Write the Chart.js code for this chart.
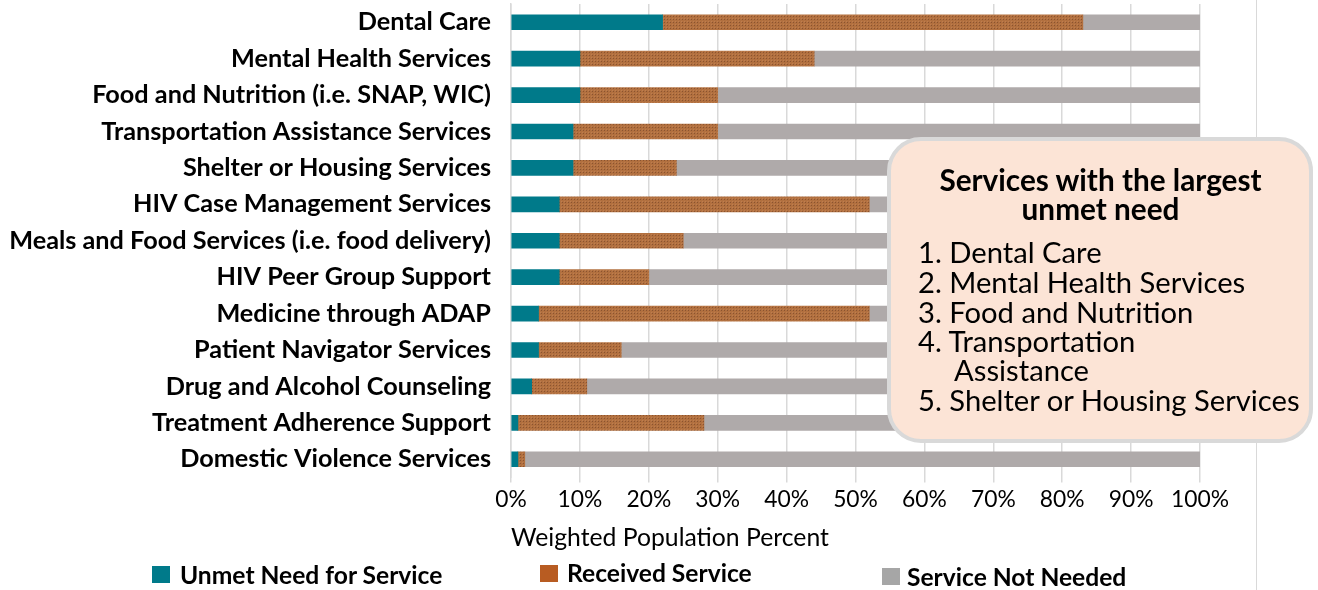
<!DOCTYPE html>
<html><head><meta charset="utf-8">
<script src="https://cdn.jsdelivr.net/npm/chart.js@4.4.1/dist/chart.umd.min.js"></script>
<style>
html,body{margin:0;padding:0;background:#fff;}
#wrap{position:relative;width:1318px;height:590px;overflow:hidden;background:#fff;}
#frameLine{position:absolute;left:1256px;top:0;width:1px;height:590px;background:#D9D9D9;}
#c{position:absolute;left:0;top:0;}
#box{position:absolute;left:887px;top:137px;width:426px;height:306px;box-sizing:border-box;background:#FCE4D6;border:4px solid #D9D9D9;border-radius:34px;}
.t{position:absolute;white-space:nowrap;color:#000;font-family:Lato,sans-serif;line-height:1;}
.sw{position:absolute;width:18px;height:17px;}
</style>
</head><body>
<div id="wrap">
  <div id="frameLine"></div>
  <canvas id="c" width="1318" height="590"></canvas>
  <div id="box"></div>
  <div id="overlay"></div>
</div>
<script>
const categories = [
  "Dental Care",
  "Mental Health Services",
  "Food and Nutrition (i.e. SNAP, WIC)",
  "Transportation Assistance Services",
  "Shelter or Housing Services",
  "HIV Case Management Services",
  "Meals and Food Services (i.e. food delivery)",
  "HIV Peer Group Support",
  "Medicine through ADAP",
  "Patient Navigator Services",
  "Drug and Alcohol Counseling",
  "Treatment Adherence Support",
  "Domestic Violence Services"
];
const unmetNeed  = [22, 10, 10, 9, 9, 7, 7, 7, 4, 4, 3, 1, 1];
const received   = [61, 34, 20, 21, 15, 45, 18, 13, 48, 12, 8, 27, 1];
const notNeeded  = [17, 56, 70, 70, 76, 48, 75, 80, 48, 84, 89, 72, 98];
const seriesNames = ["Unmet Need for Service", "Received Service", "Service Not Needed"];
const xTicks = [0, 10, 20, 30, 40, 50, 60, 70, 80, 90, 100];
const axisTitle = "Weighted Population Percent";
const boxTitle = ["Services with the largest", "unmet need"];
const boxList = ["1. Dental Care", "2. Mental Health Services", "3. Food and Nutrition", "4. Transportation", "Assistance", "5. Shelter or Housing Services"];

const FAMILY = "Lato";
function fit(text, weight, target){
  const m = document.createElement('canvas').getContext('2d');
  m.font = weight + " 100px " + FAMILY;
  return 100 * target / m.measureText(text).width;
}
const yLabelSize = fit(categories[6], "bold", 482);
const tickSize = fit("100%", "normal", 58);
const titleSize = fit(axisTitle, "normal", 318);
const legendSize = fit(seriesNames[0], "bold", 263);
const boxTitleSize = fit(boxTitle[0], "bold", 323);
const boxListSize = fit(boxList[5], "normal", 383);

// pattern for received
function makePattern(){
  const p = document.createElement('canvas'); p.width = 3; p.height = 3;
  const x = p.getContext('2d');
  x.fillStyle = '#B2703F'; x.fillRect(0,0,3,3);
  x.fillStyle = '#8A5330'; x.fillRect(1,1,1,1);
  x.fillStyle = '#BE7E50'; x.fillRect(0,0,1,1);
  return document.getElementById('c').getContext('2d').createPattern(p, 'repeat');
}
const pat = makePattern();

new Chart(document.getElementById('c'), {
  type: 'bar',
  data: {
    labels: categories,
    datasets: [
      {label: seriesNames[0], data: unmetNeed, backgroundColor: '#007A8A'},
      {label: seriesNames[1], data: received, backgroundColor: pat},
      {label: seriesNames[2], data: notNeeded, backgroundColor: '#AFAAAA'}
    ]
  },
  options: {
    indexAxis: 'y',
    responsive: false,
    animation: false,
    devicePixelRatio: 1,
    barThickness: 15,
    layout: {padding: {left: 0, right: 118, top: 4, bottom: 36}},
    plugins: {legend: {display: false}, tooltip: {enabled: false}},
    scales: {
      x: {
        stacked: true, min: 0, max: 100,
        afterFit: s => { s.height = 76.5; s.paddingLeft = 0; s.paddingRight = 0; },
        afterBuildTicks: s => { s.ticks = xTicks.map(v => ({value: v})); },
        grid: {color: '#D9D9D9', lineWidth: 1.5, drawTicks: true, tickLength: 5, tickColor: '#D9D9D9'},
        border: {display: false},
        ticks: {color: '#000', padding: 3, maxRotation: 0, autoSkip: false,
          font: {family: FAMILY, size: tickSize}, callback: v => v + '%'},
        title: {display: true, text: axisTitle, align: 'start', color: '#000',
          font: {family: FAMILY, size: titleSize}, padding: {top: 0, bottom: 1}}
      },
      y: {
        stacked: true,
        afterFit: s => { s.width = 511; s.paddingTop = 0; s.paddingBottom = 0; },
        grid: {display: false},
        border: {display: true, color: '#D9D9D9', width: 1.5},
        ticks: {color: '#000', padding: 12, autoSkip: false,
          font: {family: FAMILY, size: yLabelSize, weight: 'bold'}}
      }
    }
  }
});

// overlay text
const ov = document.getElementById('overlay');
function addText(txt, left, cy, size, weight, align){
  const d = document.createElement('div');
  d.className = 't';
  d.textContent = txt;
  d.style.fontSize = size + 'px';
  d.style.fontWeight = weight;
  d.style.top = (cy - size/2) + 'px';
  if (align === 'center') { d.style.left = (left - 300) + 'px'; d.style.width = '600px'; d.style.textAlign = 'center'; }
  else d.style.left = left + 'px';
  ov.appendChild(d);
}
function addSwatch(left, top, color){
  const d = document.createElement('div');
  d.className = 'sw'; d.style.left = left + 'px'; d.style.top = top + 'px'; d.style.background = color;
  ov.appendChild(d);
}
// box content
addText(boxTitle[0], 1100.5, 180, boxTitleSize, 'bold', 'center');
addText(boxTitle[1], 1100.5, 209, boxTitleSize, 'bold', 'center');
const listY = [252, 282, 312, 341, 370, 400];
const listX = [918, 918, 918, 918, 954, 918];
boxList.forEach((t, i) => addText(t, listX[i], listY[i], boxListSize, 'normal'));
// legend
addSwatch(152, 566, '#007A8A');
addText(seriesNames[0], 180, 575, legendSize, 'bold');
addSwatch(540, 565, '#B85C22');
addText(seriesNames[1], 567, 573, legendSize, 'bold');
addSwatch(882, 568, '#A6A6A6');
addText(seriesNames[2], 907, 577, legendSize, 'bold');
</script>
</body></html>
